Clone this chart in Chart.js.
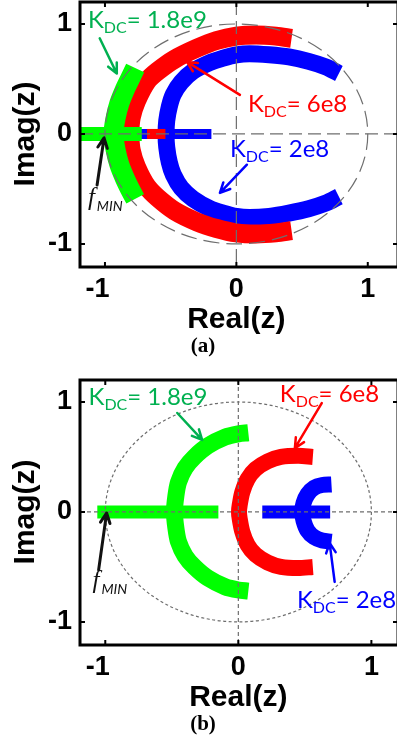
<!DOCTYPE html>
<html>
<head>
<meta charset="utf-8">
<script src="https://cdn.jsdelivr.net/npm/chart.js@4.4.1/dist/chart.umd.min.js"></script>
<style>
  html, body { margin: 0; padding: 0; background: #fff; }
  body { width: 397px; height: 742px; overflow: hidden; position: relative; }
  canvas { position: absolute; left: 0; }
  #chartA { top: 0; }
  #chartB { top: 378px; }
</style>
</head>
<body>
<canvas id="chartA" width="402" height="378"></canvas>
<canvas id="chartB" width="402" height="364"></canvas>
<script>
// axis ticks shared by both z-plane plots
const tickValues = [-1, 0, 1];

// (a) pole loci, [Re, Im]
const aGreenBar = [[-1.25, 0], [-0.72, 0]];
const aGreenArc = [[-0.77, 0.60], [-0.81, 0.50], [-0.85, 0.40], [-0.89, 0.28], [-0.92, 0.14], [-0.935, 0],
                   [-0.92, -0.14], [-0.89, -0.28], [-0.85, -0.40], [-0.81, -0.50], [-0.77, -0.59]];
const aRedBar = [[-0.68, 0], [-0.54, 0]];
const aRedArc = [[0.42, 0.87], [0.30, 0.89], [0.15, 0.90], [0, 0.89], [-0.15, 0.85], [-0.30, 0.78], [-0.47, 0.68],
                 [-0.60, 0.57], [-0.68, 0.48], [-0.76, 0.30], [-0.80, 0.15], [-0.81, 0],
                 [-0.80, -0.15], [-0.76, -0.30], [-0.68, -0.48], [-0.60, -0.58], [-0.47, -0.70], [-0.30, -0.80],
                 [-0.15, -0.86], [0, -0.90], [0.15, -0.91], [0.30, -0.90], [0.42, -0.88]];
const aBlueBar = [[-0.74, 0], [-0.19, 0]];
const aBlueArc = [[0.78, 0.55], [0.68, 0.61], [0.55, 0.66], [0.40, 0.70], [0.25, 0.72], [0.10, 0.73], [0, 0.72],
                  [-0.10, 0.69], [-0.20, 0.65], [-0.33, 0.57], [-0.42, 0.47], [-0.48, 0.36], [-0.51, 0.25],
                  [-0.53, 0.12], [-0.535, 0], [-0.53, -0.12], [-0.51, -0.26], [-0.48, -0.37], [-0.42, -0.49],
                  [-0.33, -0.59], [-0.20, -0.68], [-0.10, -0.72], [0, -0.75], [0.10, -0.76], [0.25, -0.75],
                  [0.40, -0.72], [0.55, -0.68], [0.68, -0.63], [0.78, -0.57]];

// (b) pole loci, [Re, Im]
const bGreenBar = [[-1.06, 0], [-0.15, 0]];
const bGreenArc = [[0.075, 0.72], [0, 0.71], [-0.10, 0.68], [-0.23, 0.60], [-0.33, 0.50], [-0.40, 0.40],
                   [-0.45, 0.27], [-0.47, 0.14], [-0.48, 0], [-0.47, -0.14], [-0.45, -0.27], [-0.40, -0.40],
                   [-0.33, -0.50], [-0.23, -0.60], [-0.10, -0.68], [0, -0.71], [0.075, -0.72]];
const bRedArc = [[0.56, 0.50], [0.45, 0.51], [0.32, 0.50], [0.22, 0.46], [0.13, 0.39], [0.07, 0.30],
                 [0.03, 0.18], [0.01, 0.06], [0.005, 0], [0.01, -0.06], [0.03, -0.18], [0.07, -0.30],
                 [0.13, -0.39], [0.22, -0.46], [0.32, -0.50], [0.45, -0.51], [0.56, -0.50]];
const bBlueBar = [[0.18, 0], [0.69, 0]];
const bBlueArc = [[0.70, 0.25], [0.63, 0.245], [0.57, 0.22], [0.52, 0.16], [0.49, 0.08], [0.48, 0],
                  [0.49, -0.08], [0.52, -0.17], [0.57, -0.23], [0.63, -0.26], [0.70, -0.27]];

const GREEN = '#00ff00', RED = '#ff0000', BLUE = '#0000ff';
const GREEN_TXT = '#00b050';
const PLOT_BOTTOM = 267;

const toPts = arr => arr.map(([x, y]) => ({ x, y }));

function band(data, color, width) {
    return {
        data: toPts(data),
        showLine: true,
        borderColor: color,
        backgroundColor: color,
        borderWidth: width,
        borderCapStyle: 'butt',
        borderJoinStyle: 'round',
        tension: 0.3,
        pointRadius: 0,
        pointHoverRadius: 0
    };
}

function arrow(ctx, x1, y1, x2, y2, color, w) {
    const a = Math.atan2(y2 - y1, x2 - x1), h = 11, s = 0.45;
    ctx.save();
    ctx.strokeStyle = color;
    ctx.lineWidth = w;
    ctx.lineCap = 'round';
    ctx.lineJoin = 'round';
    ctx.beginPath();
    ctx.moveTo(x1, y1);
    ctx.lineTo(x2, y2);
    ctx.moveTo(x2 - h * Math.cos(a - s), y2 - h * Math.sin(a - s));
    ctx.lineTo(x2, y2);
    ctx.lineTo(x2 - h * Math.cos(a + s), y2 - h * Math.sin(a + s));
    ctx.stroke();
    ctx.restore();
}

function gainLabel(ctx, px, py, value, color) {
    ctx.save();
    ctx.fillStyle = color;
    ctx.textAlign = 'left';
    ctx.textBaseline = 'alphabetic';
    ctx.font = '24px Lato';
    ctx.fillText('K', px, py);
    let x = px + ctx.measureText('K').width;
    ctx.font = '16px Lato';
    ctx.fillText('DC', x, py + 5);
    x += ctx.measureText('DC').width;
    ctx.font = '24px Lato';
    ctx.fillText('= ' + value, x, py);
    ctx.restore();
}

function fminLabel(ctx, px, py) {
    ctx.save();
    ctx.fillStyle = '#111';
    ctx.textAlign = 'left';
    ctx.textBaseline = 'alphabetic';
    ctx.font = 'italic 25px "Liberation Serif"';
    ctx.fillText('f', px, py);
    const x = px + ctx.measureText('f').width + 2;
    ctx.font = 'italic 14px Lato';
    ctx.fillText('MIN', x, py + 6);
    ctx.restore();
}

// unit circle, axes through the origin, frame, text and arrows
const overlay = {
    id: 'overlay',
    afterDatasetsDraw(chart, args, opts) {
        const { ctx, chartArea: ca } = chart;
        const sx = chart.scales.x, sy = chart.scales.y;
        const cx = sx.getPixelForValue(0), cy = sy.getPixelForValue(0);

        ctx.save();
        ctx.beginPath();
        ctx.rect(ca.left, ca.top, ca.right - ca.left, ca.bottom - ca.top);
        ctx.clip();
        ctx.strokeStyle = '#6e6e6e';
        ctx.lineWidth = 1.2;
        ctx.setLineDash(opts.axisDash);
        ctx.beginPath();
        ctx.moveTo(ca.left, cy); ctx.lineTo(ca.right, cy);
        ctx.moveTo(cx, ca.top); ctx.lineTo(cx, ca.bottom);
        ctx.stroke();
        ctx.setLineDash(opts.circleDash);
        ctx.beginPath();
        ctx.ellipse(cx, cy, sx.getPixelForValue(1) - cx, cy - sy.getPixelForValue(1), 0, 0, Math.PI * 2);
        ctx.stroke();
        ctx.restore();

        // frame with inward ticks
        ctx.save();
        ctx.strokeStyle = '#000';
        ctx.lineWidth = 3;
        ctx.strokeRect(ca.left, ca.top, ca.right - ca.left, ca.bottom - ca.top);
        ctx.lineWidth = 2;
        ctx.beginPath();
        tickValues.forEach(v => {
            const px = sx.getPixelForValue(v), py = sy.getPixelForValue(v);
            ctx.moveTo(px, ca.bottom); ctx.lineTo(px, ca.bottom - 5);
            ctx.moveTo(px, ca.top); ctx.lineTo(px, ca.top + 5);
            ctx.moveTo(ca.left, py); ctx.lineTo(ca.left + 5, py);
            ctx.moveTo(ca.right, py); ctx.lineTo(ca.right - 5, py);
        });
        ctx.stroke();
        ctx.restore();

        opts.arrows.forEach(a => arrow(ctx,
            sx.getPixelForValue(a.from[0]), sy.getPixelForValue(a.from[1]),
            sx.getPixelForValue(a.to[0]), sy.getPixelForValue(a.to[1]), a.color, a.w || 2.5));
        opts.gains.forEach(g => gainLabel(ctx, sx.getPixelForValue(g.x), sy.getPixelForValue(g.y), g.text, g.color));
        fminLabel(ctx, sx.getPixelForValue(opts.fmin[0]), sy.getPixelForValue(opts.fmin[1]));

        // axis titles and panel tag
        ctx.save();
        ctx.fillStyle = '#000';
        ctx.font = 'bold 30px "Liberation Sans", Arial, sans-serif';
        ctx.textAlign = 'center';
        ctx.textBaseline = 'alphabetic';
        ctx.fillText('Real(z)', cx, ca.bottom + 61);
        ctx.translate(34, cy);
        ctx.rotate(-Math.PI / 2);
        ctx.fillText('Imag(z)', 0, 0);
        ctx.restore();
        ctx.save();
        ctx.fillStyle = '#000';
        ctx.font = 'bold 21px "Liberation Serif", serif';
        ctx.textAlign = 'center';
        ctx.fillText(opts.tag, 203, ca.bottom + 85);
        ctx.restore();
    }
};

function makePlot(id, height, xMin, xMax, datasets, extra) {
    const tickFont = { family: '"Liberation Sans", Arial, sans-serif', size: 27, weight: 'bold' };
    return new Chart(document.getElementById(id), {
        type: 'scatter',
        data: { datasets },
        options: {
            responsive: false,
            animation: false,
            events: [],
            layout: { padding: { top: 2, right: 4, left: 0, bottom: 0 } },
            plugins: { legend: { display: false }, tooltip: { enabled: false }, overlay: extra },
            scales: {
                x: {
                    type: 'linear', min: xMin, max: xMax,
                    afterBuildTicks: s => { s.ticks = tickValues.map(v => ({ value: v })); },
                    afterFit: s => { s.height = height - PLOT_BOTTOM; s.paddingLeft = 0; s.paddingRight = 0; },
                    grid: { display: false, drawTicks: false },
                    border: { display: false },
                    ticks: {
                        font: tickFont, color: '#000', padding: 6, maxRotation: 0, autoSkip: false,
                        callback: v => (v < 0 ? v + '\u2007' : String(v))
                    }
                },
                y: {
                    type: 'linear', min: -1.21, max: 1.2,
                    afterBuildTicks: s => { s.ticks = tickValues.map(v => ({ value: v })); },
                    afterFit: s => { s.width = 80; s.paddingTop = 0; s.paddingBottom = 0; },
                    grid: { display: false, drawTicks: false },
                    border: { display: false },
                    ticks: { font: tickFont, color: '#000', padding: 8, autoSkip: false, callback: v => String(v) }
                }
            }
        },
        plugins: [overlay]
    });
}

makePlot('chartA', 378, -1.19, 1.23, [
    band(aGreenBar, GREEN, 14),
    band(aGreenArc, GREEN, 20),
    band(aRedBar, RED, 10),
    band(aRedArc, RED, 19),
    band(aBlueBar, BLUE, 10),
    band(aBlueArc, BLUE, 17)
], {
    tag: '(a)',
    axisDash: [13, 6],
    circleDash: [16, 7],
    gains: [
        { text: '1.8e9', x: -1.13, y: 0.96, color: GREEN_TXT },
        { text: '6e8', x: 0.088, y: 0.2, color: RED },
        { text: '2e8', x: -0.049, y: -0.21, color: BLUE }
    ],
    arrows: [
        { from: [-1.04, 0.87], to: [-0.91, 0.55], color: GREEN_TXT },
        { from: [0.027, 0.355], to: [-0.376, 0.655], color: RED },
        { from: [0.08, -0.28], to: [-0.125, -0.536], color: BLUE },
        { from: [-1.06, -0.464], to: [-1.007, -0.036], color: '#111', w: 3 }
    ],
    fmin: [-1.13, -0.645]
});

makePlot('chartB', 364, -1.19, 1.2, [
    band(bGreenBar, GREEN, 13),
    band(bGreenArc, GREEN, 17),
    band(bRedArc, RED, 16),
    band(bBlueBar, BLUE, 13),
    band(bBlueArc, BLUE, 16)
], {
    tag: '(b)',
    axisDash: [4, 3],
    circleDash: [3, 2.5],
    gains: [
        { text: '1.8e9', x: -1.126, y: 0.97, color: GREEN_TXT },
        { text: '6e8', x: 0.312, y: 1.0, color: RED },
        { text: '2e8', x: 0.44, y: -0.873, color: BLUE }
    ],
    arrows: [
        { from: [-0.459, 0.9], to: [-0.272, 0.655], color: GREEN_TXT },
        { from: [0.627, 0.99], to: [0.425, 0.58], color: RED },
        { from: [0.724, -0.636], to: [0.686, -0.282], color: BLUE },
        { from: [-1.05, -0.527], to: [-0.99, -0.01], color: '#111', w: 3 }
    ],
    fmin: [-1.096, -0.69]
});
</script>
</body>
</html>
